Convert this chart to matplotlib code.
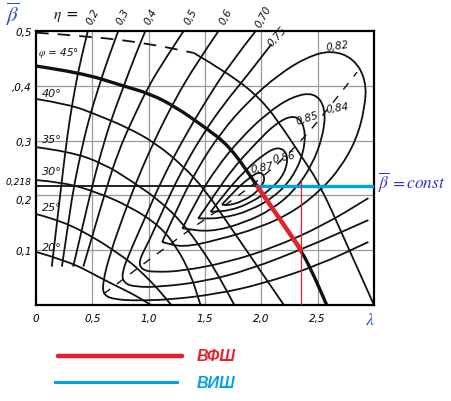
import matplotlib
matplotlib.use("Agg")
import matplotlib.pyplot as plt
from matplotlib.path import Path
from matplotlib.patches import PathPatch

# --- data (lambda, beta) ---
phi_20 = [(0, 0.097), (0.3, 0.079), (0.54, 0.053), (0.7, 0.036), (0.84, 0.022), (0.95, 0.009), (1.02, 0.0)]
phi_25 = [(0, 0.166), (0.24, 0.153), (0.54, 0.12), (0.7, 0.098), (0.84, 0.078), (0.96, 0.055), (1.08, 0.03), (1.2, 0.0)]
phi_30 = [(0, 0.228), (0.24, 0.224), (0.54, 0.206), (0.84, 0.179), (1.1, 0.144), (1.25, 0.105), (1.37, 0.058), (1.46, 0.0)]
phi_35 = [(0, 0.288), (0.3, 0.28), (0.6, 0.258), (0.85, 0.226), (1.1, 0.19), (1.3, 0.15), (1.48, 0.1), (1.63, 0.05), (1.76, 0.0)]
phi_40 = [(0, 0.376), (0.3, 0.366), (0.54, 0.347), (0.8, 0.325), (1.05, 0.297), (1.3, 0.255), (1.5, 0.21),
          (1.7, 0.15), (1.9, 0.09), (2.05, 0.045), (2.2, 0.0)]
phi_45 = [(0, 0.436), (0.4, 0.424), (0.77, 0.40), (1.02, 0.385), (1.25, 0.36), (1.48, 0.327), (1.72, 0.29),
          (1.96, 0.218), (2.16, 0.158), (2.36, 0.098), (2.47, 0.052), (2.58, 0.0)]
phi_50_dash = [(0, 0.497), (0.5, 0.49), (1.0, 0.477), (1.4, 0.46)]
phi_50 = [(1.4, 0.46), (1.7, 0.424), (2.0, 0.376), (2.2, 0.32), (2.36, 0.27), (2.52, 0.22), (2.76, 0.11), (3.0, 0.0)]

eta_02 = [(0.46, 0.5), (0.40, 0.45), (0.35, 0.40), (0.30, 0.34), (0.26, 0.28), (0.22, 0.21), (0.18, 0.14), (0.14, 0.07)]
eta_03 = [(0.73, 0.5), (0.64, 0.45), (0.56, 0.40), (0.47, 0.34), (0.40, 0.28), (0.33, 0.21), (0.28, 0.14), (0.23, 0.07)]
eta_04 = [(0.97, 0.5), (0.87, 0.45), (0.78, 0.40), (0.67, 0.34), (0.58, 0.28), (0.49, 0.21), (0.41, 0.14), (0.33, 0.07)]
eta_05 = [(1.31, 0.5), (1.15, 0.45), (1.0, 0.40), (0.86, 0.34), (0.73, 0.28), (0.62, 0.21), (0.52, 0.14), (0.42, 0.07)]
eta_06 = [(1.62, 0.5), (1.42, 0.44), (1.22, 0.37), (1.05, 0.30), (0.9, 0.23), (0.77, 0.16), (0.66, 0.095),
          (0.59, 0.04), (0.6, 0.018), (0.7, 0.01), (0.9, 0.008), (1.2, 0.01), (1.6, 0.02), (2.0, 0.038),
          (2.5, 0.072), (2.95, 0.115)]
eta_070 = [(1.95, 0.5), (1.72, 0.44), (1.5, 0.37), (1.3, 0.3), (1.12, 0.23), (0.97, 0.16), (0.84, 0.1),
           (0.76, 0.058), (0.78, 0.04), (0.88, 0.033), (1.1, 0.033), (1.5, 0.043), (1.9, 0.065), (2.4, 0.105),
           (2.95, 0.155)]
eta_075 = [(2.09, 0.476), (1.88, 0.42), (1.66, 0.365), (1.46, 0.305), (1.28, 0.24), (1.13, 0.175), (1.0, 0.115),
           (0.91, 0.08), (0.94, 0.064), (1.05, 0.06), (1.3, 0.062), (1.7, 0.078), (2.1, 0.104), (2.55, 0.145),
           (2.95, 0.195)]
eta_082 = [(1.12, 0.115), (1.25, 0.175), (1.42, 0.245), (1.64, 0.315), (1.9, 0.375), (2.15, 0.42), (2.4, 0.452),
           (2.62, 0.465), (2.82, 0.45), (2.93, 0.41), (2.92, 0.36), (2.84, 0.3), (2.7, 0.25), (2.54, 0.212),
           (2.3, 0.172), (2.0, 0.142), (1.6, 0.118), (1.3, 0.105), (1.12, 0.115)]
eta_084 = [(1.3, 0.14), (1.42, 0.19), (1.6, 0.25), (1.82, 0.305), (2.05, 0.35), (2.27, 0.38), (2.47, 0.388),
           (2.57, 0.36), (2.55, 0.31), (2.45, 0.255), (2.3, 0.21), (2.1, 0.175), (1.85, 0.15), (1.55, 0.133),
           (1.3, 0.14)]
eta_085 = [(1.44, 0.158), (1.58, 0.2), (1.75, 0.25), (1.95, 0.295), (2.13, 0.332), (2.3, 0.348), (2.39, 0.325),
           (2.38, 0.28), (2.28, 0.233), (2.12, 0.198), (1.9, 0.172), (1.65, 0.158), (1.44, 0.158)]
eta_086 = [(1.55, 0.17), (1.68, 0.205), (1.84, 0.242), (2.0, 0.272), (2.15, 0.29), (2.24, 0.275), (2.21, 0.24),
           (2.08, 0.21), (1.9, 0.186), (1.72, 0.172), (1.55, 0.17)]
eta_087 = [(1.65, 0.183), (1.76, 0.208), (1.88, 0.23), (1.99, 0.245), (2.04, 0.23), (1.97, 0.207),
           (1.84, 0.19), (1.72, 0.182), (1.65, 0.183)]
ridge = [(0.6, 0.02), (0.92, 0.07), (1.12, 0.1), (1.3, 0.128), (1.56, 0.165), (1.8, 0.2), (2.0, 0.232),
         (2.2, 0.268), (2.4, 0.31), (2.6, 0.36), (2.85, 0.425)]

beta_const = 0.218
lam_start = 1.96
vfsh = [(1.96, 0.218), (2.16, 0.158), (2.36, 0.098)]
lam_mark = 2.35

x_ticks = [0, 0.5, 1.0, 1.5, 2.0, 2.5]
x_labels = ["0", "0,5", "1,0", "1,5", "2,0", "2,5"]
y_ticks = [0.1, 0.2, 0.218, 0.3, 0.4, 0.5]
y_labels = ["0,1", "0,2", "0,218", "0,3", ",0,4", "0,5"]

RED = "#e8202a"
BLUE = "#00a2e8"
INK = "#111111"

plt.rcParams["mathtext.fontset"] = "stix"

fig = plt.figure(figsize=(4.52, 4.02), dpi=100)
ax = fig.add_axes([36 / 452, 1 - 306 / 402, 338 / 452, 274 / 402])
ax.set_xlim(0, 3)
ax.set_ylim(0, 0.5)


def draw(pts, **kw):
    # smooth curve: the read points act as quadratic bezier controls
    verts = [pts[0]]
    codes = [Path.MOVETO]
    for i in range(1, len(pts) - 1):
        p, q = pts[i], pts[i + 1]
        verts += [p, ((p[0] + q[0]) / 2, (p[1] + q[1]) / 2)]
        codes += [Path.CURVE3, Path.CURVE3]
    verts.append(pts[-1])
    codes.append(Path.LINETO)
    ax.add_patch(PathPatch(Path(verts, codes), fill=False, capstyle="butt", **kw))


# grid of the scan
for g in [0.5, 1.0, 1.5, 2.0, 2.5]:
    ax.axvline(g, color="#9a9a9a", lw=0.9, zorder=1)
for g in [0.1, 0.2, 0.3, 0.4]:
    ax.axhline(g, color="#9a9a9a", lw=0.9, zorder=1)

for c in [phi_20, phi_25, phi_30, phi_35, phi_40, phi_50]:
    draw(c, color=INK, lw=1.3, zorder=2)
draw(phi_45, color=INK, lw=2.4, zorder=2)
draw(phi_50_dash, color=INK, lw=1.3, linestyle=(0, (7, 5)), zorder=2)

for c in [eta_02, eta_03, eta_04, eta_05, eta_06, eta_070, eta_075,
          eta_082, eta_084, eta_085, eta_086, eta_087]:
    draw(c, color=INK, lw=1.3, zorder=2)
draw(ridge, color=INK, lw=1.0, linestyle=(0, (6, 6)), zorder=2)

ax.plot([0, lam_start], [beta_const, beta_const], color=INK, lw=1.3, zorder=3)
ax.plot([lam_start, 3.0], [beta_const, beta_const], color=BLUE, lw=2.4, zorder=4)
draw(vfsh, color=RED, lw=3.2, zorder=5)
ax.plot([lam_mark, lam_mark], [0, beta_const + 0.01], color=RED, lw=0.9, zorder=5)

for s in ax.spines.values():
    s.set_linewidth(1.6)
ax.set_xticks(x_ticks, x_labels)
ax.set_yticks(y_ticks, y_labels)
ax.tick_params(length=0, labelsize=7.5)
ax.tick_params(axis="x", pad=6)
ax.tick_params(axis="y", pad=3)
for t in ax.get_xticklabels() + ax.get_yticklabels():
    t.set_fontstyle("italic")
# the two close labels: 0,218 above, 0,2 pushed just under its line
ax.get_yticklabels()[2].set_fontsize(6.5)
ax.get_yticklabels()[2].set_va("bottom")
ax.get_yticklabels()[1].set_va("top")


def ftxt(x, y, s, **kw):
    fig.text(x / 452, 1 - y / 402, s, ha="center", va="center", **kw)


# labels
ftxt(13, 14, r"$\overline{\beta}$", fontsize=15, color="#2a52c8")
ftxt(370, 320, r"$\lambda$", fontsize=13, color="#2a52c8")
ftxt(66, 17, r"$\eta$ =", fontsize=11, color=INK)
for x, s in [(93, "0,2"), (123, "0,3"), (151, "0,4"), (191, "0,5"), (226, "0,6"), (263, "0,70")]:
    ftxt(x, 17, s, fontsize=7.5, rotation=62, style="italic", color=INK)
ftxt(277, 37, "0,75", fontsize=7.5, rotation=48, style="italic", color=INK)
ftxt(337, 46, "0,82", fontsize=7.5, rotation=8, style="italic", color=INK)
ftxt(337, 108, "0,84", fontsize=7.5, rotation=8, style="italic", color=INK)
ftxt(307, 119, "0,85", fontsize=7.5, rotation=18, style="italic", color=INK)
ftxt(284, 158, "0,86", fontsize=7.5, rotation=12, style="italic", color=INK)
ftxt(262, 168, "0,87", fontsize=7.5, rotation=10, style="italic", color=INK)

ftxt(59, 53, r"$\varphi$ = 45°", fontsize=7.5, style="italic", color=INK)
for y, s in [(94, "40°"), (140, "35°"), (172, "30°"), (208, "25°"), (248, "20°")]:
    ftxt(52, y, s, fontsize=8, style="italic", color=INK)

fig.text(378 / 452, 1 - 182 / 402, r"$\overline{\beta}\,=const$", fontsize=12.5,
         color="#3030d8", ha="left", va="center")

# legend under the chart
fig.add_artist(plt.Line2D([58 / 452, 182 / 452], [1 - 357 / 402] * 2, color=RED, lw=3.2,
                          solid_capstyle="round"))
fig.add_artist(plt.Line2D([55 / 452, 177 / 452], [1 - 383 / 402] * 2, color=BLUE, lw=2.2))
fig.text(197 / 452, 1 - 357 / 402, "ВФШ", fontsize=11.5, color=RED, style="italic", weight="bold",
         family="Liberation Sans", ha="left", va="center")
fig.text(197 / 452, 1 - 384 / 402, "ВИШ", fontsize=11.5, color=BLUE, style="italic", weight="bold",
         family="Liberation Sans", ha="left", va="center")

fig.savefig("out.png", dpi=100)
